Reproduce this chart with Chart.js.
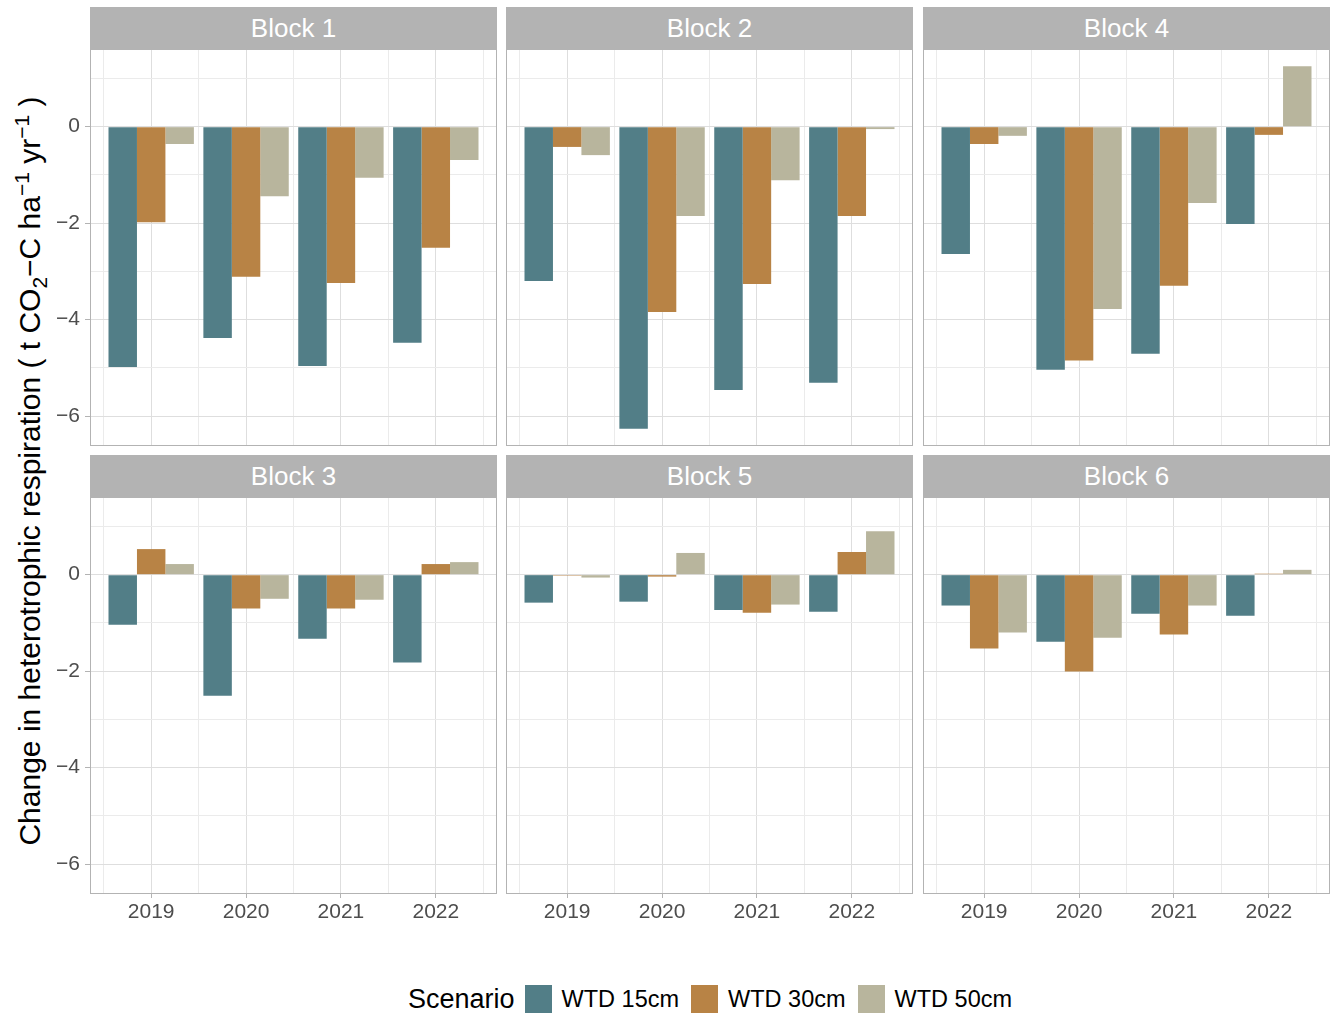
<!DOCTYPE html>
<html>
<head>
<meta charset="utf-8">
<script src="https://cdn.jsdelivr.net/npm/chart.js@4.4.1/dist/chart.umd.min.js"></script>
<style>
    body { margin: 0; background: #ffffff; font-family: 'Liberation Sans', Arial, sans-serif; }
    #page { position: relative; width: 1336px; height: 1016px; overflow: hidden; }
    canvas { position: absolute; }
    .strip {
        position: absolute; height: 42px; line-height: 42px;
        background: #b3b3b3; color: #ffffff; text-align: center; font-size: 26px;
    }
    #ytitle {
        position: absolute; left: 31px; top: 471px; white-space: nowrap;
        transform: translate(-50%, -50%) rotate(-90deg);
        font-size: 30px; color: #000000;
    }
    #ytitle sub, #ytitle sup { font-size: 21px; }
    #legend {
        position: absolute; left: 90px; width: 1240px; top: 985px; height: 28px;
        display: flex; justify-content: center; align-items: center; color: #000000;
    }
    #legend .title { font-size: 27px; margin-right: 10px; }
    #legend .box { width: 27px; height: 28px; margin-right: 10px; }
    #legend .label { font-size: 23.5px; margin-right: 12px; }
    #legend .label:last-child { margin-right: 0; }
</style>
</head>
<body>
<div id="page">
    <div id="ytitle">Change in heterotrophic respiration ( t CO<sub>2</sub>−C ha<sup>−1</sup> yr<sup>−1</sup> )</div>
    <div id="legend"></div>
</div>

<script>
// Donnees
const years = [2019, 2020, 2021, 2022];
const xGrid = [2018.5, 2019, 2019.5, 2020, 2020.5, 2021, 2021.5, 2022, 2022.5];
const yGrid = [-6, -5, -4, -3, -2, -1, 0, 1];
const yTickLabels = ['−6', '', '−4', '', '−2', '', '0', ''];
const scenarios = ['WTD 15cm', 'WTD 30cm', 'WTD 50cm'];
const scenarioColors = ['#527e87', '#b88345', '#b8b59d'];
const blockNames = ['Block 1', 'Block 2', 'Block 4', 'Block 3', 'Block 5', 'Block 6'];

const block1_wtd15 = [-4.98, -4.38, -4.96, -4.48];
const block1_wtd30 = [-1.98, -3.11, -3.24, -2.51];
const block1_wtd50 = [-0.36, -1.44, -1.06, -0.69];

const block2_wtd15 = [-3.20, -6.26, -5.46, -5.31];
const block2_wtd30 = [-0.42, -3.84, -3.26, -1.85];
const block2_wtd50 = [-0.59, -1.85, -1.11, -0.05];

const block4_wtd15 = [-2.64, -5.04, -4.71, -2.02];
const block4_wtd30 = [-0.36, -4.85, -3.30, -0.17];
const block4_wtd50 = [-0.19, -3.78, -1.58, 1.25];

const block3_wtd15 = [-1.04, -2.51, -1.33, -1.82];
const block3_wtd30 = [0.53, -0.70, -0.70, 0.22];
const block3_wtd50 = [0.22, -0.50, -0.52, 0.26];

const block5_wtd15 = [-0.58, -0.56, -0.73, -0.77];
const block5_wtd30 = [-0.02, -0.04, -0.79, 0.47];
const block5_wtd50 = [-0.06, 0.45, -0.62, 0.90];

const block6_wtd15 = [-0.64, -1.39, -0.81, -0.85];
const block6_wtd30 = [-1.53, -2.01, -1.24, 0.02];
const block6_wtd50 = [-1.20, -1.31, -0.64, 0.10];

const panelSeries = [
    [block1_wtd15, block1_wtd30, block1_wtd50],
    [block2_wtd15, block2_wtd30, block2_wtd50],
    [block4_wtd15, block4_wtd30, block4_wtd50],
    [block3_wtd15, block3_wtd30, block3_wtd50],
    [block5_wtd15, block5_wtd30, block5_wtd50],
    [block6_wtd15, block6_wtd30, block6_wtd50]
];

// Mise en page des facettes
const colLeft = [90, 506, 923];
const rowTop = [49, 497];
const panelW = 407;
const panelH = 397;

Chart.defaults.font.family = "'Liberation Sans', Arial, sans-serif";

const panelBorder = {
    id: 'panelBorder',
    afterDraw(chart) {
        const a = chart.chartArea;
        const ctx = chart.ctx;
        ctx.save();
        ctx.strokeStyle = '#b3b3b3';
        ctx.lineWidth = 1;
        ctx.strokeRect(a.left + 0.5, a.top + 0.5, a.right - a.left - 1, a.bottom - a.top - 1);
        ctx.restore();
    }
};

const page = document.getElementById('page');

function makePanel(i) {
    const col = i % 3;
    const row = Math.floor(i / 3);
    const axisW = col === 0 ? 90 : 0;
    const axisH = row === 1 ? 40 : 0;

    const strip = document.createElement('div');
    strip.className = 'strip';
    strip.style.left = colLeft[col] + 'px';
    strip.style.top = (rowTop[row] - 42) + 'px';
    strip.style.width = panelW + 'px';
    strip.textContent = blockNames[i];
    page.appendChild(strip);

    const canvas = document.createElement('canvas');
    canvas.width = panelW + axisW;
    canvas.height = panelH + axisH;
    canvas.style.left = (colLeft[col] - axisW) + 'px';
    canvas.style.top = rowTop[row] + 'px';
    canvas.style.width = canvas.width + 'px';
    canvas.style.height = canvas.height + 'px';
    page.appendChild(canvas);

    const series = panelSeries[i];

    new Chart(canvas, {
        type: 'bar',
        data: {
            datasets: scenarios.map((name, k) => ({
                label: name,
                data: years.map((y, j) => ({ x: y, y: series[k][j] })),
                backgroundColor: scenarioColors[k],
                borderWidth: 0,
                // the ruler uses the half-year grid spacing, so 1.8 = 0.9 of a year
                categoryPercentage: 1.8,
                barPercentage: 1
            }))
        },
        options: {
            responsive: false,
            animation: false,
            events: [],
            layout: { padding: 0 },
            plugins: {
                legend: { display: false },
                tooltip: { enabled: false }
            },
            scales: {
                x: {
                    type: 'linear',
                    min: 2018.355,
                    max: 2022.645,
                    offset: false,
                    border: { display: false },
                    afterBuildTicks: (scale) => {
                        scale.ticks = xGrid.map(v => ({ value: v }));
                    },
                    afterFit: (scale) => {
                        scale.height = axisH;
                        scale.paddingLeft = 0;
                        scale.paddingRight = 0;
                    },
                    grid: {
                        offset: false,
                        color: (c) => Number.isInteger(c.tick.value) ? '#dedede' : '#ebebeb',
                        lineWidth: 1,
                        drawTicks: row === 1,
                        tickLength: 4,
                        tickColor: (c) => Number.isInteger(c.tick.value) ? '#b3b3b3' : 'rgba(0,0,0,0)'
                    },
                    ticks: {
                        display: row === 1,
                        autoSkip: false,
                        maxRotation: 0,
                        padding: 2,
                        color: '#4d4d4d',
                        font: { size: 21 },
                        callback: (v) => Number.isInteger(v) ? String(v) : ''
                    }
                },
                y: {
                    type: 'linear',
                    min: -6.62,
                    max: 1.61,
                    border: { display: false },
                    afterBuildTicks: (scale) => {
                        scale.ticks = yGrid.map(v => ({ value: v }));
                    },
                    afterFit: (scale) => {
                        scale.width = axisW;
                        scale.paddingTop = 0;
                        scale.paddingBottom = 0;
                    },
                    grid: {
                        color: (c) => c.tick.value % 2 === 0 ? '#dedede' : '#ebebeb',
                        lineWidth: 1,
                        drawTicks: col === 0,
                        tickLength: 5,
                        tickColor: (c) => c.tick.value % 2 === 0 ? '#b3b3b3' : 'rgba(0,0,0,0)'
                    },
                    ticks: {
                        display: col === 0,
                        padding: 5,
                        color: '#4d4d4d',
                        font: { size: 21 },
                        callback: (v) => yTickLabels[yGrid.indexOf(v)]
                    }
                }
            }
        },
        plugins: [panelBorder]
    });
}

for (let i = 0; i < blockNames.length; i++) {
    makePanel(i);
}

// Legende commune
const legend = document.getElementById('legend');
const legendTitle = document.createElement('span');
legendTitle.className = 'title';
legendTitle.textContent = 'Scenario';
legend.appendChild(legendTitle);
scenarios.forEach((name, k) => {
    const box = document.createElement('span');
    box.className = 'box';
    box.style.background = scenarioColors[k];
    legend.appendChild(box);
    const label = document.createElement('span');
    label.className = 'label';
    label.textContent = name;
    legend.appendChild(label);
});
</script>
</body>
</html>
